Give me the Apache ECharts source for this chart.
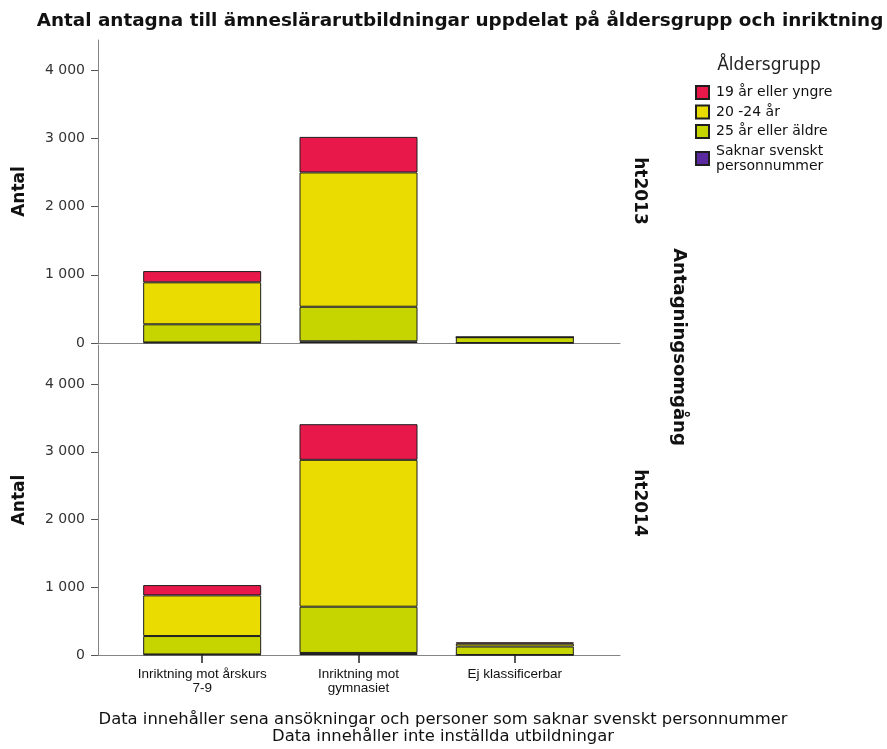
<!DOCTYPE html>
<html>
<head>
<meta charset="utf-8">
<script src="https://cdn.jsdelivr.net/npm/echarts@6/dist/echarts.min.js"></script>
<style>
  html, body { margin: 0; padding: 0; background: #fff; }
  #chart { width: 887px; height: 749px; }
</style>
</head>
<body>
<div id="chart"></div>
<script>
// Inriktningar (x-axis categories)
const categories = ['Inriktning mot årskurs\n7-9', 'Inriktning mot\ngymnasiet', 'Ej klassificerbar'];
// Antagningsomgångar (one panel each)
const rounds = ['ht2013', 'ht2014'];
// Åldersgrupper, legend order
const ageGroups = ['19 år eller yngre', '20 -24 år', '25 år eller äldre', 'Saknar svenskt\npersonnummer'];
const ageColors = ['#e8194a', '#eadc00', '#c6d400', '#5b2aa0'];

// Antal antagna per åldersgrupp, one value per category
const ht2013_19 = [165, 521, 0];
const ht2013_20_24 = [615, 1968, 0];
const ht2013_25 = [266, 506, 85];
const ht2013_saknar = [8, 25, 0];

const ht2014_19 = [152, 526, 20];
const ht2014_20_24 = [600, 2168, 42];
const ht2014_25 = [272, 683, 125];
const ht2014_saknar = [8, 30, 0];

const yTicks = [0, 1000, 2000, 3000, 4000];

const panelValues = [
  [ht2013_19, ht2013_20_24, ht2013_25, ht2013_saknar],
  [ht2014_19, ht2014_20_24, ht2014_25, ht2014_saknar]
];

const narrow = '"Liberation Sans Narrow", "Arial Narrow", "Liberation Sans", Arial, sans-serif';
const dejavu = '"DejaVu Sans", "Liberation Sans", Arial, sans-serif';

const fmtThousands = v => String(v).replace(/\B(?=(\d{3})+(?!\d))/g, ' ');

// Panel frames (axes spanning the full panel) and the narrower plot areas holding the bars
const panels = [
  { top: 40, height: 303, max: 4440 },
  { top: 345, height: 310, max: 4576 }
];
const frameGrids = panels.map(p => ({ left: 98, width: 522, top: p.top, height: p.height }));
const barGrids = panels.map(p => ({ left: 124, width: 469, top: p.top, height: p.height }));

const xAxes = [];
const yAxes = [];

// Frame axes: y scale with labels, x as a plain baseline
panels.forEach((p, i) => {
  xAxes.push({
    type: 'value', gridIndex: i, min: 0, max: 1,
    splitLine: { show: false },
    axisTick: { show: false },
    axisLabel: { show: false },
    axisLine: { show: true, onZero: false, lineStyle: { color: '#858585', width: 1 } }
  });
  yAxes.push({
    type: 'value', gridIndex: i, min: 0, max: p.max,
    name: 'Antal',
    nameLocation: 'middle',
    nameGap: 70,
    nameTextStyle: { fontFamily: dejavu, fontWeight: 'bold', fontSize: 17, color: '#111' },
    splitLine: { show: false },
    axisLine: { show: true, onZero: false, lineStyle: { color: '#858585', width: 1 } },
    axisTick: { show: true, customValues: yTicks, length: 7, lineStyle: { color: '#555' } },
    axisLabel: {
      customValues: yTicks,
      formatter: v => fmtThousands(v),
      color: '#333',
      fontFamily: dejavu,
      fontSize: 14,
      margin: 13
    }
  });
});

// Bar axes: categories and a matching hidden value scale
panels.forEach((p, i) => {
  const isBottom = i === panels.length - 1;
  xAxes.push({
    type: 'category', gridIndex: 2 + i, data: categories,
    axisLine: { show: false },
    axisTick: { show: isBottom, alignWithLabel: true, interval: 0, length: 8, lineStyle: { color: '#222', width: 1.5 } },
    axisLabel: {
      show: isBottom,
      interval: 0,
      hideOverlap: false,
      color: '#111',
      fontFamily: narrow,
      fontSize: 13.5,
      lineHeight: 14,
      margin: 12
    }
  });
  yAxes.push({
    type: 'value', gridIndex: 2 + i, min: 0, max: p.max, show: false,
    splitLine: { show: false }
  });
});

// Stacked bars: bottom to top = saknar, 25+, 20-24, 19-
const stackOrder = [3, 2, 1, 0];
const series = [];
panelValues.forEach((groups, p) => {
  stackOrder.forEach(k => {
    series.push({
      name: ageGroups[k],
      type: 'bar',
      xAxisIndex: 2 + p,
      yAxisIndex: 2 + p,
      stack: rounds[p],
      barWidth: 118,
      itemStyle: { color: ageColors[k], borderColor: '#1e1e1e', borderWidth: 1 },
      emphasis: { disabled: true },
      data: groups[k]
    });
  });
});

const option = {
  backgroundColor: '#fff',
  animation: false,
  title: [
    {
      text: 'Antal antagna till ämneslärarutbildningar uppdelat på åldersgrupp och inriktning',
      left: 455, top: 7, textAlign: 'center',
      textStyle: { fontFamily: dejavu, fontWeight: 'bold', fontSize: 18.4, color: '#111' }
    },
    {
      text: 'Åldersgrupp',
      left: 764, top: 52, textAlign: 'center',
      textStyle: { fontFamily: dejavu, fontWeight: 'normal', fontSize: 17, color: '#222' }
    },
    {
      text: 'Data innehåller sena ansökningar och personer som saknar svenskt personnummer\nData innehåller inte inställda utbildningar',
      left: 438, top: 706, textAlign: 'center',
      textStyle: { fontFamily: dejavu, fontWeight: 'normal', fontSize: 16.4, lineHeight: 17, color: '#111' }
    }
  ],
  legend: {
    data: ageGroups,
    orient: 'vertical',
    left: 690,
    top: 80,
    itemWidth: 13,
    itemHeight: 13,
    itemGap: 4.5,
    icon: 'rect',
    selectedMode: false,
    textStyle: { fontFamily: dejavu, fontSize: 14, lineHeight: 15, color: '#111', padding: [0, 0, 0, 2] }
  },
  grid: frameGrids.concat(barGrids),
  xAxis: xAxes,
  yAxis: yAxes,
  series: series,
  graphic: [
    {
      type: 'text', x: 639, y: 191, rotation: -Math.PI / 2,
      style: { text: rounds[0], fontFamily: dejavu, fontWeight: 'bold', fontSize: 17, fill: '#111', align: 'center', verticalAlign: 'middle' }
    },
    {
      type: 'text', x: 639, y: 503, rotation: -Math.PI / 2,
      style: { text: rounds[1], fontFamily: dejavu, fontWeight: 'bold', fontSize: 17, fill: '#111', align: 'center', verticalAlign: 'middle' }
    },
    {
      type: 'text', x: 679, y: 347, rotation: -Math.PI / 2,
      style: { text: 'Antagningsomgång', fontFamily: dejavu, fontWeight: 'bold', fontSize: 18, fill: '#111', align: 'center', verticalAlign: 'middle' }
    }
  ]
};

const chart = echarts.init(document.getElementById('chart'), null, { renderer: 'canvas' });
chart.setOption(option);
</script>
</body>
</html>
